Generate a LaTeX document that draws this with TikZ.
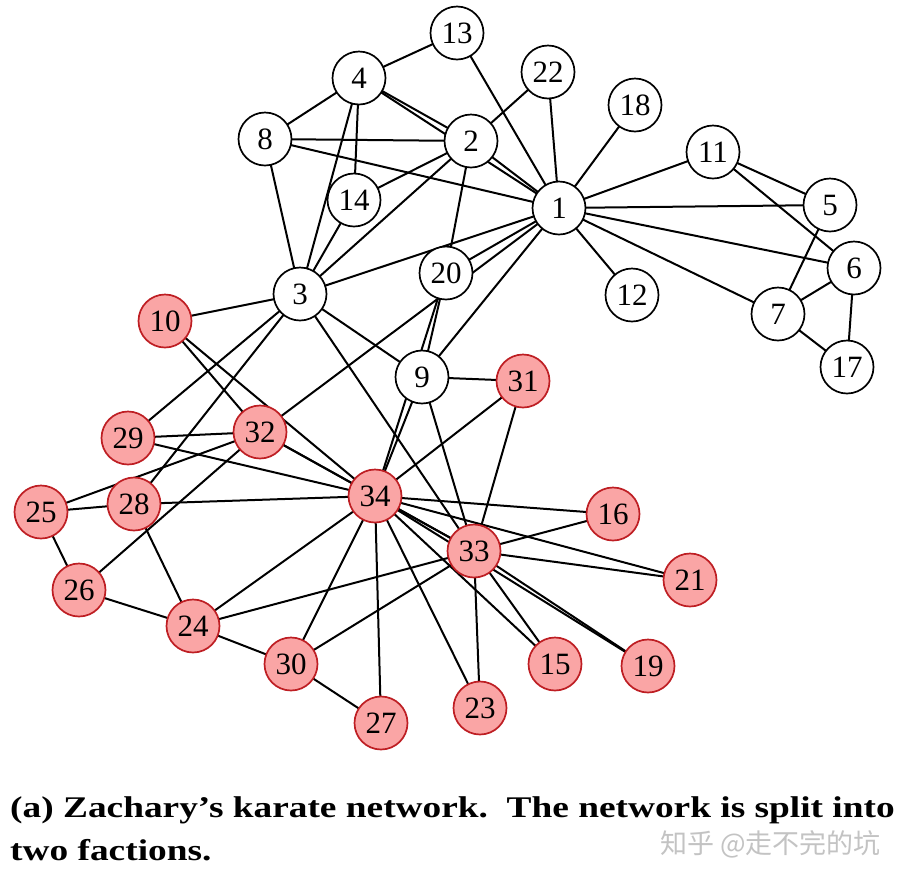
\documentclass[tikz,border=0pt]{standalone}
\usepackage{fontspec}
\usepackage{graphicx}
\setmainfont{Liberation Serif}
\newfontfamily\cjkfont{Noto Sans CJK SC}
\definecolor{pinkfill}{RGB}{250,165,165}
\definecolor{reddraw}{RGB}{190,30,35}
\definecolor{wmgray}{RGB}{195,195,195}
\pgfdeclarelayer{edgelayer}
\pgfsetlayers{edgelayer,main}
\begin{document}
\begin{tikzpicture}[x=1pt,y=-1pt,
  vtx/.style={circle,draw=black,line width=1.7pt,fill=white,minimum size=53pt,inner sep=0pt,font=\fontsize{31}{31}\selectfont},
  fac/.style={vtx,draw=reddraw,fill=pinkfill},
  edge/.style={line width=2pt,black}]
\useasboundingbox (0,0) rectangle (904,879);
% nodes
\node[vtx] (n1) at (559,208) {1};
\node[vtx] (n2) at (471,141) {2};
\node[vtx] (n3) at (300,294) {3};
\node[vtx] (n4) at (359,78) {4};
\node[vtx] (n5) at (830,205) {5};
\node[vtx] (n6) at (854,268) {6};
\node[vtx] (n7) at (778,314) {7};
\node[vtx] (n8) at (265,139) {8};
\node[vtx] (n9) at (422,377) {9};
\node[fac] (n10) at (165,321) {10};
\node[vtx] (n11) at (713,152) {11};
\node[vtx] (n12) at (632,295) {12};
\node[vtx] (n13) at (457,33) {13};
\node[vtx] (n14) at (354,200) {14};
\node[fac] (n15) at (555,664) {15};
\node[fac] (n16) at (613,514) {16};
\node[vtx] (n17) at (847,367) {17};
\node[vtx] (n18) at (635,105) {18};
\node[fac] (n19) at (648,666) {19};
\node[vtx] (n20) at (446,273) {20};
\node[fac] (n21) at (690,580) {21};
\node[vtx] (n22) at (548,72) {22};
\node[fac] (n23) at (480,708) {23};
\node[fac] (n24) at (193,626) {24};
\node[fac] (n25) at (41,512) {25};
\node[fac] (n26) at (79,590) {26};
\node[fac] (n27) at (381,723) {27};
\node[fac] (n28) at (134,504) {28};
\node[fac] (n29) at (128,438) {29};
\node[fac] (n30) at (291,664) {30};
\node[fac] (n31) at (523,381) {31};
\node[fac] (n32) at (260,432) {32};
\node[fac] (n33) at (474,551) {33};
\node[fac] (n34) at (375,496) {34};
% edges
\begin{pgfonlayer}{edgelayer}
\fill[white] (0,0) rectangle (904,879);
\foreach \a/\b in {1/2,1/3,1/4,1/5,1/6,1/7,1/8,1/9,1/11,1/12,1/13,1/18,1/20,1/22,1/32,
  2/3,2/4,2/8,2/14,2/20,2/22,
  3/4,3/8,3/9,3/10,3/14,3/28,3/29,3/33,
  4/8,4/13,4/14,
  5/7,5/11,6/7,6/11,6/17,7/17,
  9/31,9/33,9/34,20/9,10/34,10/32,
  15/33,15/34,16/33,16/34,19/33,19/34,20/34,21/33,21/34,23/33,23/34,
  24/26,24/28,24/30,24/33,24/34,25/26,25/28,25/32,26/32,27/30,27/34,
  28/34,29/32,29/34,30/33,30/34,31/33,31/34,32/33,32/34,33/34}
  {\draw[edge] (n\a.center) -- (n\b.center);}
\end{pgfonlayer}
% caption
\node[anchor=base west,inner sep=0pt,font=\fontsize{30}{30}\selectfont\bfseries] (cap1) at (10,817) {\scalebox{1.245}[1]{(a) Zachary’s karate network.\ \ The network is split into}};
\node[anchor=base west,inner sep=0pt,font=\fontsize{30}{30}\selectfont\bfseries] (cap2) at (10,860) {\scalebox{1.245}[1]{two factions.}};
\node[anchor=base west,inner sep=0pt,text=wmgray,font=\fontsize{27}{27}\selectfont\cjkfont] (wm) at (660,853) {知乎 @走不完的坑};
\end{tikzpicture}
\end{document}
